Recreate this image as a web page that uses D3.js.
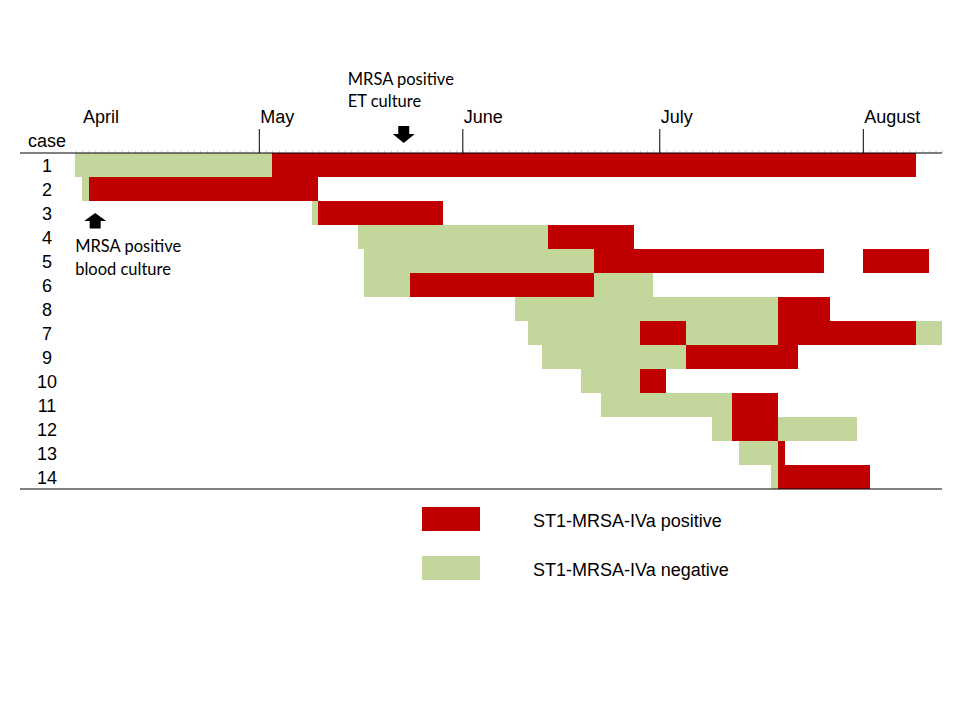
<!DOCTYPE html>
<html>
<head>
<meta charset="utf-8">
<script src="https://cdn.jsdelivr.net/npm/d3@7"></script>
<style>
  body { margin: 0; background: #fff; }
</style>
</head>
<body>
<script>
// cases in the order they appear, top to bottom
const cases = ["1", "2", "3", "4", "5", "6", "8", "7", "9", "10", "11", "12", "13", "14"]

// [case, status, start, end]  status: pos = ST1-MRSA-IVa positive, neg = negative
const segments = [
  ["1", "neg", "2008-04-03", "2008-05-03"], ["1", "pos", "2008-05-03", "2008-08-09"],
  ["2", "neg", "2008-04-04", "2008-04-05"], ["2", "pos", "2008-04-05", "2008-05-10"],
  ["3", "neg", "2008-05-09", "2008-05-10"], ["3", "pos", "2008-05-10", "2008-05-29"],
  ["4", "neg", "2008-05-16", "2008-06-14"], ["4", "pos", "2008-06-14", "2008-06-27"],
  ["5", "neg", "2008-05-17", "2008-06-21"], ["5", "pos", "2008-06-21", "2008-07-26"],
  ["5", "pos", "2008-08-01", "2008-08-11"],
  ["6", "neg", "2008-05-17", "2008-05-24"], ["6", "pos", "2008-05-24", "2008-06-21"],
  ["6", "neg", "2008-06-21", "2008-06-30"],
  ["8", "neg", "2008-06-09", "2008-07-19"], ["8", "pos", "2008-07-19", "2008-07-27"],
  ["7", "neg", "2008-06-11", "2008-06-28"], ["7", "pos", "2008-06-28", "2008-07-05"],
  ["7", "neg", "2008-07-05", "2008-07-19"], ["7", "pos", "2008-07-19", "2008-08-09"],
  ["7", "neg", "2008-08-09", "2008-08-13"],
  ["9", "neg", "2008-06-13", "2008-07-05"], ["9", "pos", "2008-07-05", "2008-07-22"],
  ["10", "neg", "2008-06-19", "2008-06-28"], ["10", "pos", "2008-06-28", "2008-07-02"],
  ["11", "neg", "2008-06-22", "2008-07-12"], ["11", "pos", "2008-07-12", "2008-07-19"],
  ["12", "neg", "2008-07-09", "2008-07-12"], ["12", "pos", "2008-07-12", "2008-07-19"],
  ["12", "neg", "2008-07-19", "2008-07-31"],
  ["13", "neg", "2008-07-13", "2008-07-19"], ["13", "pos", "2008-07-19", "2008-07-20"],
  ["14", "neg", "2008-07-18", "2008-07-19"], ["14", "pos", "2008-07-19", "2008-08-02"]
]

// month ticks and month label positions
const monthTicks = ["2008-05-01", "2008-06-01", "2008-07-01", "2008-08-01"]
const monthLabels = [["April", "2008-04-04"], ["May", "2008-05-01"], ["June", "2008-06-01"],
                     ["July", "2008-07-01"], ["August", "2008-08-01"]]

const legendItems = [["pos", "ST1-MRSA-IVa positive"], ["neg", "ST1-MRSA-IVa negative"]]

const colors = { pos: "#C00000", neg: "#C3D69B" }

const w = 960
const h = 720
const axisY = 153 // axis line
const bottomY = 489 // bottom line
const lineX0 = 20
const lineX1 = 942

const parse = d3.utcParse("%Y-%m-%d")

const x = d3.scaleUtc()
  .domain([parse("2008-05-01"), parse("2008-08-01")])
  .range([259.3, 863.3])

const y = d3.scaleBand()
  .domain(cases)
  .range([axisY, bottomY])
  .padding(0)

const svg = d3.select("body")
  .append("svg")
  .attr("width", w)
  .attr("height", h)

// bars
svg.append("g")
  .selectAll("rect")
  .data(segments)
  .enter()
  .append("rect")
  .attr("x", d => x(parse(d[2])))
  .attr("y", d => y(d[0]))
  .attr("width", d => x(parse(d[3])) - x(parse(d[2])))
  .attr("height", y.bandwidth())
  .attr("fill", d => colors[d[1]])
  .attr("shape-rendering", "crispEdges")

// daily minor ticks along the top axis
const dayAxis = d3.axisTop(x)
  .tickValues(d3.utcDay.range(parse("2008-04-03"), parse("2008-08-14")))
  .tickSize(3)
  .tickFormat("")
const gDays = svg.append("g")
  .attr("transform", `translate(0,${axisY})`)
  .call(dayAxis)
gDays.select(".domain").remove()
gDays.selectAll("line").attr("stroke", "#d4d4d4")

// month ticks
svg.append("g")
  .selectAll("line")
  .data(monthTicks)
  .enter()
  .append("line")
  .attr("x1", d => x(parse(d)))
  .attr("x2", d => x(parse(d)))
  .attr("y1", 129)
  .attr("y2", axisY)
  .attr("stroke", "black")
  .attr("stroke-width", 1)

svg.append("g")
  .selectAll("text")
  .data(monthLabels)
  .enter()
  .append("text")
  .attr("x", d => x(parse(d[1])) + 1)
  .attr("y", 123)
  .style("font-family", "Arial, 'Liberation Sans', sans-serif")
  .style("font-size", "18px")
  .text(d => d[0])

// horizontal rules
svg.append("line")
  .attr("x1", lineX0).attr("x2", lineX1)
  .attr("y1", axisY).attr("y2", axisY)
  .attr("stroke", "black")
svg.append("line")
  .attr("x1", lineX0).attr("x2", lineX1)
  .attr("y1", bottomY).attr("y2", bottomY)
  .attr("stroke", "black")

// case labels
svg.append("text")
  .attr("x", 47)
  .attr("y", 147)
  .attr("text-anchor", "middle")
  .style("font-family", "Arial, 'Liberation Sans', sans-serif")
  .style("font-size", "18px")
  .text("case")

svg.append("g")
  .selectAll("text")
  .data(cases)
  .enter()
  .append("text")
  .attr("x", 47)
  .attr("y", d => y(d) + y.bandwidth() / 2 + 7)
  .attr("text-anchor", "middle")
  .style("font-family", "Arial, 'Liberation Sans', sans-serif")
  .style("font-size", "18px")
  .text(d => d)

// annotations
const annFont = "Lato, 'Open Sans', sans-serif"

const etX = x(parse("2008-05-23"))
svg.append("path")
  .attr("d", `M${etX - 5.5},126 L${etX + 5.5},126 L${etX + 5.5},134 L${etX + 11},134 L${etX},143 L${etX - 11},134 L${etX - 5.5},134 Z`)
  .attr("fill", "black")
svg.append("text")
  .attr("x", etX - 56)
  .attr("y", 85)
  .style("font-family", annFont)
  .style("font-size", "16.5px")
  .text("MRSA positive")
svg.append("text")
  .attr("x", etX - 56)
  .attr("y", 107)
  .style("font-family", annFont)
  .style("font-size", "16.5px")
  .text("ET culture")

const bcX = x(parse("2008-04-06"))
svg.append("path")
  .attr("d", `M${bcX},213 L${bcX + 11},221 L${bcX + 5.5},221 L${bcX + 5.5},228.5 L${bcX - 5.5},228.5 L${bcX - 5.5},221 L${bcX - 11},221 Z`)
  .attr("fill", "black")
svg.append("text")
  .attr("x", bcX - 20)
  .attr("y", 252)
  .style("font-family", annFont)
  .style("font-size", "16.5px")
  .text("MRSA positive")
svg.append("text")
  .attr("x", bcX - 20)
  .attr("y", 275)
  .style("font-family", annFont)
  .style("font-size", "16.5px")
  .text("blood culture")

// legend
const legend = svg.append("g")
  .selectAll("g")
  .data(legendItems)
  .enter()
  .append("g")
  .attr("transform", (d, i) => `translate(422,${507 + i * 49})`)

legend.append("rect")
  .attr("width", 58)
  .attr("height", 24)
  .attr("fill", d => colors[d[0]])

legend.append("text")
  .attr("x", 111)
  .attr("y", 20)
  .style("font-family", "Arial, 'Liberation Sans', sans-serif")
  .style("font-size", "18px")
  .text(d => d[1])
</script>
</body>
</html>
